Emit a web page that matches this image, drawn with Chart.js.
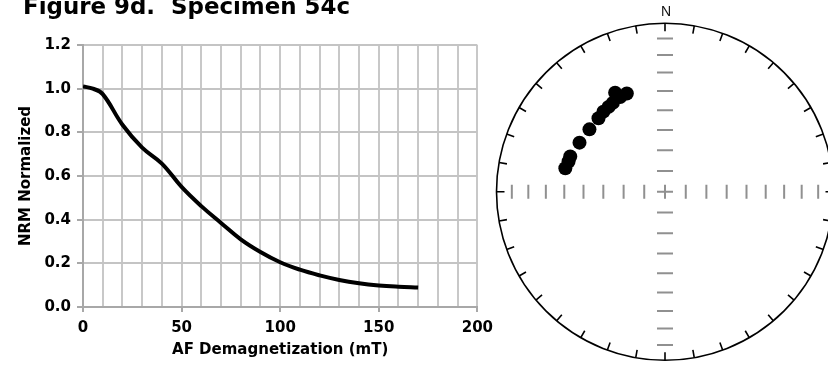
<!DOCTYPE html>
<html>
<head>
<meta charset="utf-8">
<script src="https://cdn.jsdelivr.net/npm/chart.js@4/dist/chart.umd.min.js"></script>
<style>
  html, body { margin: 0; padding: 0; background: #fff; overflow: hidden; width: 828px; height: 367px; }
  #wrap { position: relative; width: 828px; height: 367px; overflow: hidden; }
  #decay { position: absolute; left: 0; top: 0; }
  #net { position: absolute; left: 480px; top: 0; }
</style>
</head>
<body>
<div id="wrap">
  <canvas id="decay" width="500" height="367"></canvas>
  <canvas id="net" width="380" height="367"></canvas>
</div>
<script>
// AF demagnetization steps (mT) and normalized remanence
const afField = [0, 5, 10, 20, 30, 40, 50, 60, 70, 80, 90, 100, 110, 120, 130, 140, 150, 160, 170];
const nrmNorm = [1.01, 1.0, 0.975, 0.835, 0.73, 0.657, 0.55, 0.462, 0.385, 0.31, 0.252, 0.205, 0.171, 0.145, 0.124, 0.109, 0.099, 0.093, 0.089];

// Axis tick labels
const xTickLabels = [0, 50, 100, 150, 200];
const yTickLabels = [0.0, 0.2, 0.4, 0.6, 0.8, 1.0, 1.2];

// Directions of the demagnetization steps (declination, inclination in degrees)
const stepDec = [283.3, 287.4, 290.4, 299.9, 309.6, 317.9, 322.5, 326.4, 329.6, 333.3, 334.7, 338.8];
const stepInc = [39.1, 39.8, 39.8, 41.1, 41.4, 40.8, 39.8, 39.3, 38.7, 34.5, 37.7, 37.4];

// Stereonet graticule: azimuth ticks on the primitive, inclination ticks on the axes
const azimuthTicks = [0, 10, 20, 30, 40, 50, 60, 70, 80, 90, 100, 110, 120, 130, 140, 150, 160, 170,
                      180, 190, 200, 210, 220, 230, 240, 250, 260, 270, 280, 290, 300, 310, 320, 330, 340, 350];
const inclinationTicks = [90, 80, 70, 60, 50, 40, 30, 20, 10];

const titleText = 'Figure 9d.  Specimen 54c';
const boldFont = { family: '"DejaVu Sans", Verdana, sans-serif', weight: 'bold', size: 15 };

// Lambert equal-area radius (unit circle = horizontal)
function equalArea(inc) {
  return Math.SQRT2 * Math.sin((90 - Math.abs(inc)) / 2 * Math.PI / 180);
}
function toNet(dec, inc) {
  const r = equalArea(inc);
  const d = dec * Math.PI / 180;
  return { x: r * Math.sin(d), y: r * Math.cos(d) };
}

const figureTitle = {
  id: 'figureTitle',
  afterDraw(chart) {
    const ctx = chart.ctx;
    ctx.save();
    let size = 23;
    ctx.font = 'bold ' + size + 'px "DejaVu Sans", Verdana, sans-serif';
    const w = ctx.measureText(titleText).width;
    size = size * 327 / w;
    ctx.font = 'bold ' + size.toFixed(2) + 'px "DejaVu Sans", Verdana, sans-serif';
    ctx.fillStyle = '#000';
    ctx.textAlign = 'left';
    ctx.textBaseline = 'alphabetic';
    ctx.fillText(titleText, 23, 13.5);
    ctx.restore();
  }
};

new Chart(document.getElementById('decay'), {
  type: 'line',
  data: {
    datasets: [{
      data: afField.map((x, i) => ({ x: x, y: nrmNorm[i] })),
      borderColor: '#000',
      borderWidth: 4,
      pointRadius: 0,
      tension: 0.4,
      fill: false,
      borderCapStyle: 'butt'
    }]
  },
  options: {
    responsive: false,
    animation: false,
    layout: { padding: { left: 0, top: 45, right: 22, bottom: 0 } },
    plugins: { legend: { display: false }, tooltip: { enabled: false } },
    scales: {
      x: {
        type: 'linear', min: 0, max: 200,
        ticks: {
          stepSize: 10, autoSkip: false, maxRotation: 0,
          callback: v => xTickLabels.includes(v) ? String(v) : '',
          font: boldFont, color: '#000', padding: 7
        },
        grid: {
          color: '#c8c8c8', lineWidth: 2, tickLength: 5,
          tickColor: c => (c.tick && xTickLabels.includes(c.tick.value)) ? '#a8a8a8' : 'rgba(0,0,0,0)'
        },
        border: { color: '#a8a8a8', width: 2 },
        title: { display: true, text: 'AF Demagnetization (mT)', font: boldFont, color: '#000', padding: { top: 0, bottom: 8 } },
        afterFit: s => { s.height = 60; }
      },
      y: {
        type: 'linear', min: 0, max: 1.2,
        afterBuildTicks: s => { s.ticks = yTickLabels.map(v => ({ value: v })); },
        ticks: { callback: v => Number(v).toFixed(1), font: boldFont, color: '#000', padding: 6 },
        grid: { color: '#c4c4c4', lineWidth: 2, tickLength: 6, tickColor: '#a8a8a8' },
        border: { color: '#a8a8a8', width: 2 },
        title: { display: true, text: 'NRM Normalized', font: boldFont, color: '#000', padding: { top: 17, bottom: 0 } },
        afterFit: s => { s.width = 83; }
      }
    }
  },
  plugins: [figureTitle]
});

const netFrame = {
  id: 'netFrame',
  beforeDatasetsDraw(chart) {
    const ctx = chart.ctx;
    const sx = chart.scales.x, sy = chart.scales.y;
    const cx = sx.getPixelForValue(0), cy = sy.getPixelForValue(0);
    const R = sx.getPixelForValue(1) - cx;
    ctx.save();
    // primitive circle with azimuth ticks
    ctx.strokeStyle = '#000';
    ctx.lineWidth = 1.6;
    ctx.beginPath();
    ctx.arc(cx, cy, R, 0, Math.PI * 2);
    ctx.stroke();
    ctx.beginPath();
    azimuthTicks.forEach(az => {
      const a = az * Math.PI / 180, s = Math.sin(a), c = Math.cos(a);
      ctx.moveTo(cx + R * s, cy - R * c);
      ctx.lineTo(cx + (R - 8) * s, cy - (R - 8) * c);
    });
    ctx.stroke();
    // inclination ticks along the N-S and E-W axes
    ctx.strokeStyle = '#909090';
    ctx.lineWidth = 2;
    ctx.beginPath();
    inclinationTicks.forEach(inc => {
      const r = sx.getPixelForValue(equalArea(inc)) - cx;
      [-1, 1].forEach(sg => {
        ctx.moveTo(cx + sg * r, cy - 7);
        ctx.lineTo(cx + sg * r, cy + 7);
        ctx.moveTo(cx - 8, cy + sg * r);
        ctx.lineTo(cx + 8, cy + sg * r);
      });
    });
    ctx.stroke();
    // north label
    ctx.fillStyle = '#111';
    ctx.font = '14px "Liberation Sans", Arial, sans-serif';
    ctx.textAlign = 'center';
    ctx.textBaseline = 'middle';
    ctx.fillText('N', cx + 1, cy - R - 11);
    ctx.restore();
  }
};

new Chart(document.getElementById('net'), {
  type: 'scatter',
  data: {
    datasets: [{
      data: stepDec.map((d, i) => toNet(d, stepInc[i])),
      pointRadius: 7,
      pointBackgroundColor: '#000',
      pointBorderWidth: 0,
      clip: false
    }]
  },
  options: {
    responsive: false,
    animation: false,
    layout: { padding: { left: 16.5, right: 26.5, top: 23.5, bottom: 6.5 } },
    plugins: { legend: { display: false }, tooltip: { enabled: false } },
    scales: {
      x: { type: 'linear', min: -1, max: 1, display: false },
      y: { type: 'linear', min: -1, max: 1, display: false }
    }
  },
  plugins: [netFrame]
});
</script>
</body>
</html>
